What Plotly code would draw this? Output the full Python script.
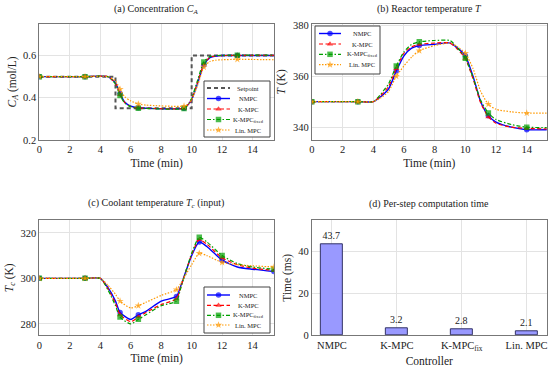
import plotly.graph_objects as go

# ---------------- data ----------------
sp_t = [0, 5, 5, 10, 10, 15.4]
sp_ca = [0.5, 0.5, 0.35, 0.35, 0.6, 0.6]

ca_t = [0, 3, 4.5, 5, 5.3, 5.6, 6, 6.5, 7, 9.5, 9.8, 10, 10.4, 10.8, 11.2, 11.6, 12, 13, 15.4]
ca_nmpc = [0.5, 0.5, 0.5, 0.47, 0.42, 0.38, 0.36, 0.352, 0.35, 0.35, 0.37, 0.39, 0.47, 0.555, 0.59, 0.598, 0.6, 0.6, 0.6]
ca_kmpc = [0.5, 0.5, 0.5, 0.468, 0.415, 0.378, 0.358, 0.351, 0.35, 0.35, 0.37, 0.392, 0.475, 0.56, 0.592, 0.599, 0.6, 0.601, 0.601]
ca_kfix = [0.5, 0.5, 0.5, 0.465, 0.41, 0.375, 0.357, 0.35, 0.349, 0.349, 0.372, 0.398, 0.485, 0.57, 0.595, 0.6, 0.601, 0.602, 0.602]
ca_lin = [0.5, 0.5, 0.5, 0.48, 0.44, 0.405, 0.385, 0.37, 0.365, 0.36, 0.37, 0.39, 0.46, 0.545, 0.572, 0.578, 0.58, 0.582, 0.58]
ca_mk = [0, 3, 5.3, 6.5, 9.5, 10.8, 13]

t_t = [0, 3, 4, 4.5, 5, 5.5, 6, 6.5, 7, 8, 9, 9.5, 10, 10.5, 11, 11.5, 12, 13, 14, 15.4]
t_nmpc = [350, 350, 350, 352, 355, 362, 368, 371, 372, 372.5, 373, 371, 368, 360, 350, 344.5, 342, 340, 339, 339]
t_kmpc = [350, 350, 350, 352.5, 356, 363, 369, 371.5, 372.5, 373, 373, 370.5, 367, 359, 349.5, 344, 341.5, 340, 339.5, 339.3]
t_kfix = [350, 350, 350, 353, 357, 364, 369.5, 372.5, 373.5, 374, 374, 371, 367, 359.5, 350.5, 345.5, 343, 341, 340, 339.8]
t_lin = [350, 350, 350, 351.5, 354, 360, 364, 367.5, 370, 372, 373, 371.5, 369, 363, 354, 349, 347, 346, 345.5, 345.5]
t_mk = [0, 3, 5.5, 7, 10, 11.5, 14]

tc_t = [0, 3, 4, 4.5, 5, 5.3, 6, 6.5, 7, 8, 9, 9.3, 10, 10.5, 11, 12, 13, 14, 15.4]
tc_nmpc = [300, 300, 300, 296, 290, 285, 282, 284, 285.5, 290, 292, 297, 310, 316, 314, 308, 305, 304, 303]
tc_kmpc = [300, 300, 300, 295.5, 289, 284, 281, 283, 285, 288.5, 291, 296.5, 310.5, 317, 315, 309, 306, 304.5, 303.5]
tc_kfix = [300, 300, 300, 295, 288, 283, 280, 282, 284, 288, 290, 296, 311, 318, 316, 310, 306.5, 305, 304]
tc_lin = [300, 300, 300, 297, 293, 290, 287, 288, 289.5, 292.5, 295, 298, 306, 311, 310, 307, 306, 305.5, 305]
tc_mk = [0, 3, 5.3, 6.5, 9, 10.5, 12, 15.4]

ctrl_labels = ["NMPC", "K-MPC", "K-MPC<sub>fix</sub>", "Lin. MPC"]
ctrl_ms = [43.7, 3.2, 2.8, 2.1]

# ---------------- styles ----------------
FONT = "Liberation Serif"
SETPOINT = ("Setpoint", "#555555", "4px,3px", None, 2.0)
series = [
    ("NMPC", "#0000ff", "solid", "circle", 1.4),
    ("K-MPC", "#ff0000", "4px,2.5px", "triangle-up", 1.2),
    ("K-MPC<sub>fixed</sub>", "#00a000", "4px,2px,1.5px,2px", "square", 1.2),
    ("Lin. MPC", "#ff9900", "1.5px,1.5px", "star", 1.2),
]

fig = go.Figure()

def add_panel(t, ys, mk, xa, ya):
    for (name, col, dash, sym, w), y in zip(series, ys):
        sizes = [5.5 if tt in mk else 0 for tt in t]
        fig.add_trace(go.Scatter(x=t, y=y, mode="lines+markers", xaxis=xa, yaxis=ya, name=name,
                                 line=dict(color=col, dash=dash, width=w, shape="spline", smoothing=0.6),
                                 marker=dict(color=col, symbol=sym, size=sizes, line=dict(width=0)),
                                 showlegend=False, hoverinfo="skip"))

fig.add_trace(go.Scatter(x=sp_t, y=sp_ca, mode="lines", xaxis="x", yaxis="y", name="Setpoint",
                         line=dict(color=SETPOINT[1], dash=SETPOINT[2], width=SETPOINT[4]), showlegend=False))
add_panel(ca_t, [ca_nmpc, ca_kmpc, ca_kfix, ca_lin], ca_mk, "x", "y")
add_panel(t_t, [t_nmpc, t_kmpc, t_kfix, t_lin], t_mk, "x2", "y2")
add_panel(tc_t, [tc_nmpc, tc_kmpc, tc_kfix, tc_lin], tc_mk, "x3", "y3")

fig.add_trace(go.Bar(x=list(range(len(ctrl_ms))), y=ctrl_ms, xaxis="x4", yaxis="y4",
                     width=0.34, marker=dict(color="#9999ff", line=dict(color="#333366", width=1)),
                     text=[f"{v:.1f}" for v in ctrl_ms], textposition="outside",
                     textfont=dict(size=10, family=FONT, color="#222"), cliponaxis=False,
                     showlegend=False))

# ---------------- custom legends (pixel overlay axis) ----------------
legends = [
    (204, 270, 81, 137, [88, 98.5, 109, 119.5, 130], 207, 230, 248, [SETPOINT] + series),
    (315, 380, 26, 74, [33.5, 44, 54.3, 64.7], 319, 341, 362, series),
    (204, 270, 287, 333, [295, 305.3, 315.3, 325], 207, 230, 248, series),
]
for bx0, bx1, by0, by1, rows, lx0, lx1, tx, entries in legends:
    fig.add_trace(go.Scatter(x=[bx0, bx1, bx1, bx0, bx0], y=[by0, by0, by1, by1, by0], mode="lines",
                             fill="toself", fillcolor="white", line=dict(color="#444", width=1),
                             xaxis="x5", yaxis="y5", showlegend=False, hoverinfo="skip"))
    for (name, col, dash, sym, w), ry in zip(entries, rows):
        fig.add_trace(go.Scatter(x=[lx0, (lx0 + lx1) / 2, lx1], y=[ry, ry, ry],
                                 mode="lines+markers" if sym else "lines",
                                 line=dict(color=col, dash=dash, width=w),
                                 marker=dict(color=col, symbol=sym or "circle", size=[0, 5.5, 0], line=dict(width=0)),
                                 xaxis="x5", yaxis="y5", showlegend=False, hoverinfo="skip"))
        fig.add_annotation(text=name, x=tx, y=ry, xref="x5", yref="y5", showarrow=False,
                           xanchor="center", yanchor="middle", font=dict(size=6.5, family=FONT, color="#222"))

axis_common = dict(showline=True, mirror=True, linecolor="#777777", linewidth=1,
                   showgrid=True, gridcolor="#e3e3e3", zeroline=False, ticks="", automargin=False,
                   tickfont=dict(size=10.5, family=FONT, color="#222"))
xt = dict(text="Time (min)", font=dict(size=11.5, family=FONT, color="#222"), standoff=4)

dx_l = [0.0715, 0.498]
dx_r = [0.567, 0.994]
dy_t = [0.626, 0.936]
dy_b = [0.1035, 0.411]

fig.update_layout(
    width=550, height=374, margin=dict(l=0, r=0, t=0, b=0),
    paper_bgcolor="white", plot_bgcolor="rgba(0,0,0,0)",
    font=dict(family=FONT, color="#222"),
    showlegend=False,
    xaxis=dict(domain=dx_l, range=[0, 15.4], dtick=2, anchor="y", title=xt, **axis_common),
    yaxis=dict(domain=dy_t, range=[0.2, 0.75], dtick=0.2, tickformat=".1f", anchor="x",
               title=dict(text="<i>C<sub>A</sub></i> (mol/L)", font=dict(size=11.5, family=FONT), standoff=4),
               **axis_common),
    xaxis2=dict(domain=dx_r, range=[0, 15.3], dtick=2, anchor="y2", title=xt, **axis_common),
    yaxis2=dict(domain=dy_t, range=[335, 380.5], dtick=20, anchor="x2",
                title=dict(text="<i>T</i> (K)", font=dict(size=11.5, family=FONT), standoff=4),
                **axis_common),
    xaxis3=dict(domain=dx_l, range=[0, 15.4], dtick=2, anchor="y3", title=xt, **axis_common),
    yaxis3=dict(domain=dy_b, range=[275, 325.5], dtick=20, anchor="x3",
                title=dict(text="<i>T<sub>c</sub></i> (K)", font=dict(size=11.5, family=FONT), standoff=4),
                **axis_common),
    xaxis4=dict(domain=dx_r, range=[-0.31, 3.31], tickvals=list(range(len(ctrl_labels))),
                ticktext=ctrl_labels, anchor="y4",
                title=dict(text="Controller", font=dict(size=11.5, family=FONT), standoff=4),
                **axis_common),
    yaxis4=dict(domain=dy_b, range=[0, 55], dtick=20, anchor="x4",
                title=dict(text="Time (ms)", font=dict(size=11.5, family=FONT), standoff=4),
                **axis_common),
    xaxis5=dict(domain=[0, 1], range=[0, 550], visible=False, anchor="y5", fixedrange=True),
    yaxis5=dict(domain=[0, 1], range=[374, 0], visible=False, anchor="x5", fixedrange=True),
    bargap=0,
)

titles = [
    ("(a) Concentration <i>C<sub>A</sub></i>", 0.284, 1 - 9.5 / 374),
    ("(b) Reactor temperature <i>T</i>", 0.78, 1 - 9.5 / 374),
    ("(c) Coolant temperature <i>T<sub>c</sub></i> (input)", 0.284, 1 - 204 / 374),
    ("(d) Per-step computation time", 0.78, 1 - 204 / 374),
]
for txt, x, y in titles:
    fig.add_annotation(text=txt, x=x, y=y, xref="paper", yref="paper", showarrow=False,
                       xanchor="center", yanchor="middle", font=dict(size=10, family=FONT, color="#222"))

fig.write_html("out.html", config={"displayModeBar": False},
               post_script="document.body.style.margin='0';document.documentElement.style.margin='0';")
